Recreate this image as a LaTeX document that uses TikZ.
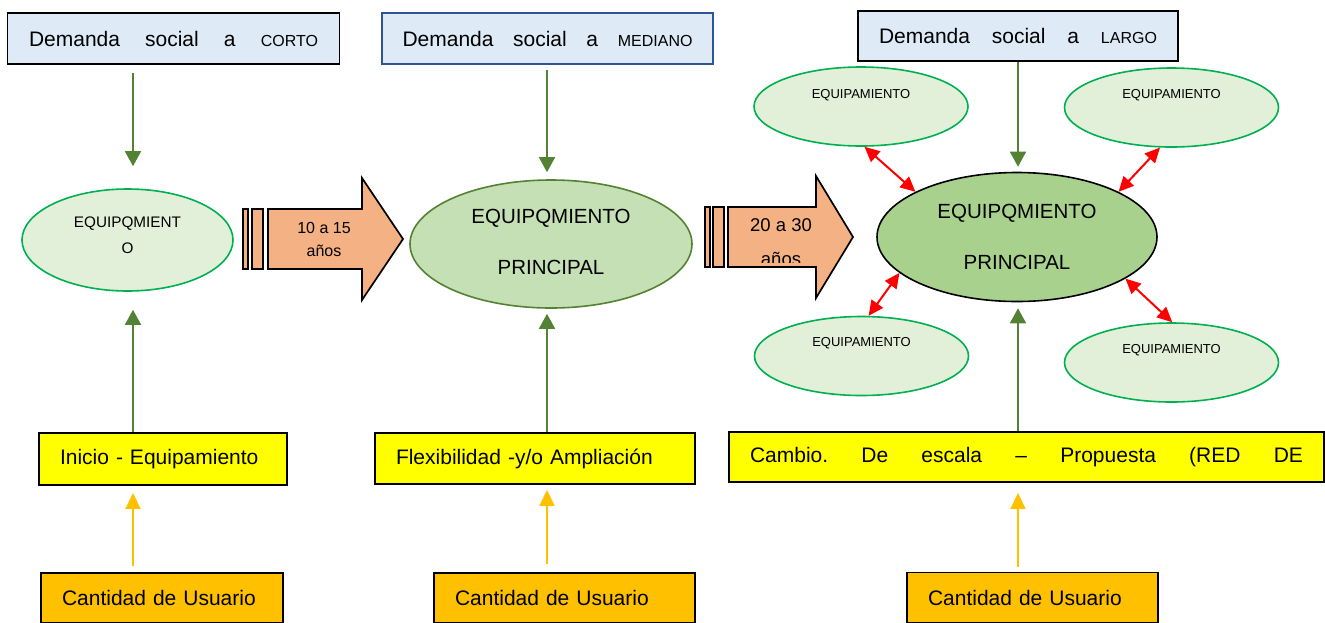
\documentclass[tikz,border=0pt]{standalone}
\usepackage{fontspec}
\setmainfont{Liberation Sans}
\usetikzlibrary{arrows.meta,shapes.geometric,calc}
\definecolor{boxblue}{HTML}{DEEBF7}
\definecolor{bordblue}{HTML}{2F5597}
\definecolor{gline}{HTML}{548235}
\definecolor{lgreen}{HTML}{E2F0D9}
\definecolor{bgreen}{HTML}{00B050}
\definecolor{mgreen}{HTML}{C5E0B4}
\definecolor{dgreen}{HTML}{A9D18E}
\definecolor{peach}{HTML}{F4B183}
\definecolor{gold}{HTML}{FFC000}
\definecolor{yel}{HTML}{FFFF00}
\newcommand\demsmall{\fontsize{16}{16}\selectfont}
\frenchspacing
\begin{document}
\begin{tikzpicture}[x=1pt,y=-1pt,
  dbox/.style={draw=black,line width=1.8pt,fill=boxblue,inner sep=0pt,minimum height=51pt,font=\fontsize{21}{25}\selectfont},
  ybox/.style={draw=black,line width=1.8pt,fill=yel,inner xsep=21pt,inner ysep=0pt,align=left,font=\fontsize{21}{25}\selectfont},
  ubox/.style={draw=black,line width=1.8pt,fill=gold,inner xsep=21pt,inner ysep=0pt,align=left,minimum height=50pt,font=\fontsize{21}{25}\selectfont},
  sat/.style={ellipse,draw=bgreen,line width=1.6pt,fill=lgreen,minimum width=214pt,minimum height=79pt,inner sep=0pt},
  smalltxt/.style={font=\fontsize{13}{15}\selectfont,inner sep=0pt},
  bigell/.style={ellipse,line width=1.6pt,inner sep=0pt,align=center,font=\fontsize{20.5}{51.5}\selectfont},
  garrow/.style={draw=gline,line width=1.6pt,-{Triangle[width=16pt,length=15pt]}},
  yarrow/.style={draw=gold,line width=1.6pt,-{Triangle[width=15pt,length=16pt]}},
  rarrow/.style={draw=red,line width=2pt,{Triangle[width=14pt,length=15pt]}-{Triangle[width=14pt,length=15pt]}},
  blockarrow/.style={draw=black,line width=1.7pt,fill=peach,line join=miter},
  arrtxt/.style={inner sep=0pt,anchor=base}
]
\clip (0,0) rectangle (1325,622);

% column coordinates
\coordinate (k1) at (133,0);
\coordinate (k2) at (547,0);
\coordinate (k3) at (1018,0);

% top demand boxes
\node[dbox,minimum width=332pt] (d1) at (173.5,38.5) {\makebox[289pt][s]{Demanda social a {\demsmall CORTO}}};
\node[dbox,draw=bordblue,minimum width=331pt] (d2) at (547.5,38.5) {\makebox[290pt][s]{Demanda social a {\demsmall MEDIANO}}};
\node[dbox,minimum width=320pt,minimum height=50pt] (d3) at (1018,36) {\makebox[278pt][s]{Demanda social a {\demsmall LARGO}}};

% ellipses
\node[ellipse,draw=bgreen,line width=1.6pt,fill=lgreen,minimum width=211pt,minimum height=102pt,inner sep=0pt,align=center,font=\fontsize{15.3}{26.3}\selectfont] (e1) at (127.5,240) {EQUIPQMIENT\\O\rule[-9.4pt]{0pt}{0pt}};
\node[bigell,draw=gline,fill=mgreen,minimum width=282pt,minimum height=128pt] (e2) at (551,244) {EQUIPQMIENTO\\PRINCIPAL\rule[-4.8pt]{0pt}{0pt}};
\node[bigell,draw=black,fill=dgreen,minimum width=280pt,minimum height=129pt] (m) at (1017,237) {EQUIPQMIENTO\\PRINCIPAL};

% satellites
\node[sat] (s1) at (861,106.5) {};
\node[sat] (s2) at (1171.5,107.5) {};
\node[sat] (s3) at (861.5,356) {};
\node[sat] (s4) at (1171.5,362.5) {};
\node[smalltxt] (s1t) at (861,95) {EQUIPAMIENTO};
\node[smalltxt] (s2t) at (1171.5,95) {EQUIPAMIENTO};
\node[smalltxt] (s3t) at (861.5,343) {EQUIPAMIENTO};
\node[smalltxt] (s4t) at (1171.5,350) {EQUIPAMIENTO};

% striped block arrows
\draw[blockarrow] (243,209) rectangle (248,269);
\draw[blockarrow] (252,209) rectangle (263,269);
\draw[blockarrow] (268,209) -- (362,209) -- (362,178) -- (403,239) -- (362,300) -- (362,269) -- (268,269) -- cycle;
\node[arrtxt,font=\fontsize{16}{20}\selectfont] (t1a) at (324,233) {10 a 15};
\node[arrtxt,font=\fontsize{16}{20}\selectfont] (t1b) at (324,256.5) {años};

\draw[blockarrow] (705,207) rectangle (710,267);
\draw[blockarrow] (713,207) rectangle (724,267);
\draw[blockarrow] (728,207) -- (816,207) -- (816,176) -- (853,237) -- (816,298) -- (816,267) -- (728,267) -- cycle;
\node[arrtxt,font=\fontsize{18.5}{22}\selectfont] (t2a) at (781,231) {20 a 30};
\begin{scope}
\clip (728,200) rectangle (816,262);
\node[arrtxt,font=\fontsize{18.5}{22}\selectfont] (t2b) at (781,265.5) {años};
\end{scope}

% bottom yellow boxes
\node[ybox,text width=206pt,minimum height=52pt] (i1) at (163,459) {Inicio - Equipamiento};
\node[ybox,text width=278pt,minimum height=51pt] (f2) at (535,458.5) {Flexibilidad -y/o Ampliación};
\node[ybox,minimum height=50pt] (c3) at (1026.5,457) {\makebox[553pt][s]{Cambio. De escala – Propuesta (RED DE}};

% user boxes
\node[ubox,text width=200pt] (u1) at (162,598) {Cantidad de Usuario};
\node[ubox,text width=219pt] (u2) at (564.5,598) {Cantidad de Usuario};
\node[ubox,text width=209pt] (u3) at (1032.5,597.5) {Cantidad de Usuario};

% green arrows
\draw[garrow,shorten <=8pt,shorten >=22pt] (d1.south -| k1) -- (e1.north -| k1);
\draw[garrow,shorten >=18pt] (i1.north -| k1) -- (e1.south -| k1);
\draw[garrow,shorten <=5pt,shorten >=7pt] (d2.south -| k2) -- (e2.north -| k2);
\draw[garrow,shorten >=5pt] (f2.north -| k2) -- (e2.south -| k2);
\draw[garrow,shorten >=5pt] (d3.south -| k3) -- (m.north -| k3);
\draw[garrow,shorten >=6pt] (c3.north -| k3) -- (m.south -| k3);

% yellow arrows
\draw[yarrow,shorten <=6pt,shorten >=7pt] (u1.north -| k1) -- (i1.south -| k1);
\draw[yarrow,shorten <=8pt,shorten >=5pt] (u2.north -| k2) -- (f2.south -| k2);
\draw[yarrow,shorten <=5pt,shorten >=10pt] (u3.north -| k3) -- (c3.south -| k3);

% red double arrows
\draw[rarrow] (m.156) -- (s1.275);
\draw[rarrow] (m.24) -- (s2.254);
\draw[rarrow] (m.197) -- (s3.80);
\draw[rarrow] (m.339) -- (s4.89);
\end{tikzpicture}
\end{document}
